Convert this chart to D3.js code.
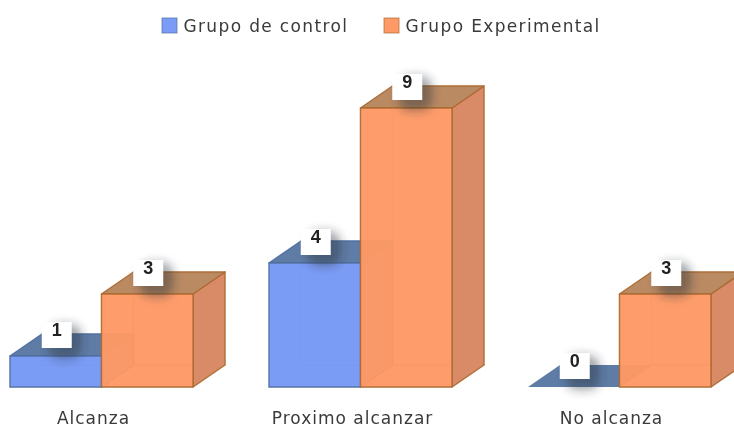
<!DOCTYPE html>
<html>
<head>
<meta charset="utf-8">
<script src="https://cdn.jsdelivr.net/npm/d3@7"></script>
<style>
  html, body { margin: 0; padding: 0; background: #fff; overflow: hidden; }
  svg { display: block; filter: blur(0.45px); }
  text { font-family: "DejaVu Sans", sans-serif; fill: #3a3a3a; }
</style>
</head>
<body>
<div id="chart"></div>
<script>
var categories = ["Alcanza", "Proximo alcanzar", "No alcanza"];
var seriesNames = ["Grupo de control", "Grupo Experimental"];
var control = [1, 4, 0];
var experimental = [3, 9, 3];

var width = 734;
var height = 428;
var depthX = 32;
var depthY = 22;

var colors = [
  { front: "#7b9cf6", top: "#5f7ca6", side: "#6f8fd0", back: "#7395e8", edge: "#4f6d9f", backOp: 0.9 },
  { front: "#ff9a66", top: "#ba8a63", side: "#d88b66", back: "#f08a55", edge: "#a9692f", backOp: 0.6 }
];

var svg = d3.select("#chart").append("svg")
  .attr("width", width)
  .attr("height", height);

var defs = svg.append("defs");
defs.append("filter")
  .attr("id", "labelShadow")
  .attr("x", "-60%").attr("y", "-60%")
  .attr("width", "220%").attr("height", "220%")
  .append("feGaussianBlur")
  .attr("stdDeviation", 5);

var xScale = d3.scaleBand().domain(categories).range([10, 711]).paddingInner(0.2934).paddingOuter(0);
var innerScale = d3.scaleBand().domain([0, 1]).range([0, xScale.bandwidth()]);
var yScale = d3.scaleLinear().domain([0, 9]).range([387, 108]);

var poly = d3.line();

// one 3d box, back faces first so they show through the front
function drawBox(g, x0, x1, value, c) {
  var y0 = yScale(0);
  var y1 = yScale(value);
  var dx = depthX;
  var dy = depthY;

  if (value === 0) {
    g.append("path")
      .attr("d", poly([[x0, y0], [x1, y0], [x1 + dx, y0 - dy], [x0 + dx, y0 - dy]]) + "Z")
      .attr("fill", c.top);
    return;
  }

  var faces = [
    { pts: [[x0, y0], [x1, y0], [x1 + dx, y0 - dy], [x0 + dx, y0 - dy]], fill: c.back, op: c.backOp, line: 0.3 },
    { pts: [[x0, y0], [x0 + dx, y0 - dy], [x0 + dx, y1 - dy], [x0, y1]], fill: c.back, op: c.backOp, line: 0.3 },
    { pts: [[x0 + dx, y0 - dy], [x1 + dx, y0 - dy], [x1 + dx, y1 - dy], [x0 + dx, y1 - dy]], fill: c.back, op: c.backOp, line: 0.3 },
    { pts: [[x1, y0], [x1 + dx, y0 - dy], [x1 + dx, y1 - dy], [x1, y1]], fill: c.side, op: 1, line: 0.85 },
    { pts: [[x0, y1], [x1, y1], [x1 + dx, y1 - dy], [x0 + dx, y1 - dy]], fill: c.top, op: 1, line: 0.85 },
    { pts: [[x0, y0], [x1, y0], [x1, y1], [x0, y1]], fill: c.front, op: 0.9, line: 0.85 }
  ];

  g.selectAll("path.face")
    .data(faces)
    .enter()
    .append("path")
    .attr("class", "face")
    .attr("d", function (d) { return poly(d.pts) + "Z"; })
    .attr("fill", function (d) { return d.fill; })
    .attr("fill-opacity", function (d) { return d.op; })
    .attr("stroke", c.edge)
    .attr("stroke-opacity", function (d) { return d.line; })
    .attr("stroke-width", 1.4)
    .attr("stroke-linejoin", "round");
}

var bars = svg.append("g");
var labels = svg.append("g");

categories.forEach(function (cat, i) {
  [control, experimental].forEach(function (values, s) {
    var x0 = xScale(cat) + innerScale(s);
    var x1 = x0 + innerScale.bandwidth();
    drawBox(bars.append("g"), x0, x1, values[i], colors[s]);
  });
});

// data labels sit on top of all the boxes
categories.forEach(function (cat, i) {
  [control, experimental].forEach(function (values, s) {
    var cx = xScale(cat) + innerScale(s) + innerScale.bandwidth() / 2 + 1;
    var bottom = yScale(values[i]) - 8;
    var lab = labels.append("g");
    lab.append("rect")
      .attr("x", cx - 9)
      .attr("y", bottom - 24)
      .attr("width", 34)
      .attr("height", 35)
      .attr("rx", 12)
      .attr("fill", "#222a38")
      .attr("fill-opacity", 0.42)
      .attr("filter", "url(#labelShadow)");
    lab.append("rect")
      .attr("x", cx - 15)
      .attr("y", bottom - 26)
      .attr("width", 30)
      .attr("height", 26)
      .attr("fill", "#fff");
    lab.append("text")
      .attr("x", cx)
      .attr("y", bottom - 12)
      .attr("text-anchor", "middle")
      .style("font-family", '"Liberation Sans", sans-serif')
      .style("font-size", "18px")
      .style("font-weight", "bold")
      .style("fill", "#222")
      .text(values[i]);
  });
});

// category labels
var xAxis = d3.axisBottom(xScale).tickSize(0).tickPadding(0);
var axisG = svg.append("g")
  .attr("transform", "translate(-8,412)")
  .call(xAxis);
axisG.select(".domain").remove();
axisG.selectAll("text")
  .style("font-family", '"DejaVu Sans", sans-serif')
  .style("font-size", "17px")
  .style("letter-spacing", "1px")
  .style("fill", "#3a3a3a");

// legend
var legendX = [162, 384];
seriesNames.forEach(function (name, i) {
  var item = svg.append("g").attr("transform", "translate(" + legendX[i] + ",18)");
  item.append("rect")
    .attr("width", 15)
    .attr("height", 15)
    .attr("fill", colors[i].front)
    .attr("stroke", colors[i].edge)
    .attr("stroke-opacity", 0.7);
  item.append("text")
    .attr("x", 21.5)
    .attr("y", 13.5)
    .style("font-size", "17px")
    .style("letter-spacing", "1.35px")
    .text(name);
});
</script>
</body>
</html>
